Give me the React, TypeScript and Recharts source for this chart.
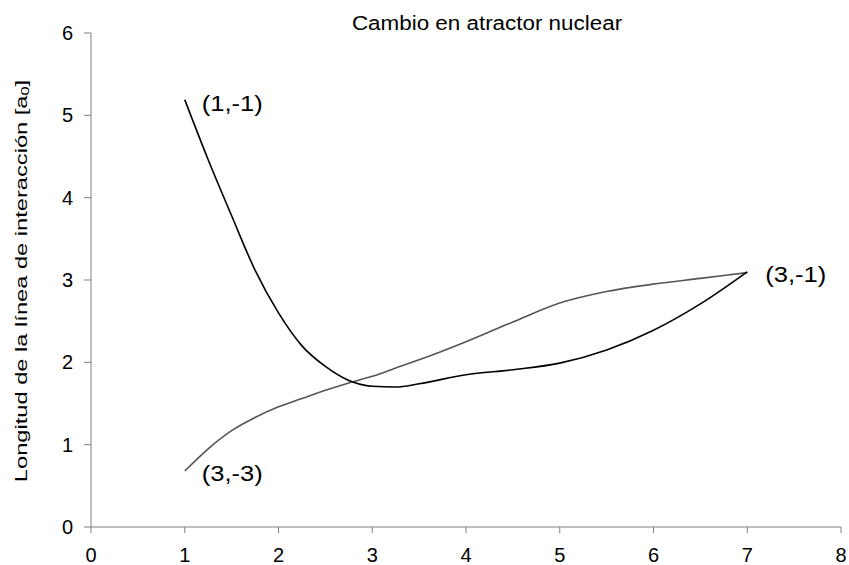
import React from 'react';
import { LineChart, Line, XAxis, YAxis, Label } from 'recharts';

// x positions shared by both branches
const xs = [1, 1.25, 1.5, 1.75, 2, 2.25, 2.5, 2.75, 3, 3.25, 3.5, 4, 4.5, 5, 5.5, 6, 6.5, 7];
// branch that starts at (1,-1)
const upperBranch = [5.19, 4.46, 3.78, 3.12, 2.6, 2.2, 1.95, 1.78, 1.71, 1.7, 1.74, 1.85, 1.91, 1.99, 2.15, 2.39, 2.71, 3.1];
// branch that starts at (3,-3)
const lowerBranch = [0.68, 0.95, 1.17, 1.33, 1.46, 1.56, 1.66, 1.75, 1.83, 1.93, 2.03, 2.25, 2.49, 2.72, 2.86, 2.95, 3.02, 3.09];

const xTicks = [0, 1, 2, 3, 4, 5, 6, 7, 8];
const yTicks = [0, 1, 2, 3, 4, 5, 6];

const title = 'Cambio en atractor nuclear';
const yTitle = 'Longitud de la línea de interacción [a';
const upperStart = '(1,-1)';
const lowerStart = '(3,-3)';
const endLabel = '(3,-1)';

const data = xs.map((x, i) => ({ x, upper: upperBranch[i], lower: lowerBranch[i] }));

const FONT = '"Liberation Sans", Arial, sans-serif';
const AXIS = '#808080';

const pointLabel = (text: string, index: number, dx: number, dy: number) => (props: any) => {
  if (props.index !== index) return <g key={props.index} />;
  return (
    <text key={props.index} x={props.x + dx} y={props.y + dy} fontSize={22} fontFamily={FONT} fill="#000"
      dominantBaseline="central" textLength={61} lengthAdjust="spacingAndGlyphs">
      {text}
    </text>
  );
};

const upperLabel = (props: any) => {
  if (props.index === 0) return pointLabel(upperStart, 0, 17, 4)(props);
  return pointLabel(endLabel, xs.length - 1, 18, 3)(props);
};

// rotated axis title, stretched along its length
const YTitle = (props: any) => {
  const vb = props.viewBox;
  const cy = vb.y + vb.height / 2 + 1;
  return (
    <g transform={`translate(21, ${cy}) rotate(-90) scale(1.48, 1)`}>
      <text x={0} y={0} textAnchor="middle" dominantBaseline="central" fontSize={16} fontFamily={FONT} fill="#000">
        {yTitle}
        <tspan fontSize={11} dy={4}>0</tspan>
        <tspan dy={-4}>]</tspan>
      </text>
    </g>
  );
};

const App = () => (
  <div style={{ position: 'absolute', left: 0, top: 0, width: 849, height: 565, background: '#fff', fontFamily: FONT }}>
    <div style={{ position: 'absolute', left: 487, top: 12, transform: 'translateX(-50%) scaleX(1.12)', fontSize: 20, whiteSpace: 'nowrap', color: '#000' }}>
      {title}
    </div>
    <LineChart width={849} height={565} data={data} margin={{ top: 33, right: 8, left: 0, bottom: 0 }}>
      <XAxis dataKey="x" type="number" domain={[0, 8]} ticks={xTicks} height={38}
        stroke={AXIS} tickSize={6} tickMargin={15} tick={{ fill: '#000', fontSize: 20, fontFamily: FONT }} />
      <YAxis type="number" domain={[0, 6]} ticks={yTicks} width={91}
        stroke={AXIS} tickSize={7} tickMargin={11} tick={{ fill: '#000', fontSize: 20, fontFamily: FONT }}>
        <Label content={YTitle} />
      </YAxis>
      <Line type="monotone" dataKey="lower" stroke="#555" strokeWidth={1.6} dot={false}
        isAnimationActive={false} label={pointLabel(lowerStart, 0, 17, 2)} />
      <Line type="monotone" dataKey="upper" stroke="#000" strokeWidth={1.6} dot={false}
        isAnimationActive={false} label={upperLabel} />
    </LineChart>
  </div>
);

export default App;
